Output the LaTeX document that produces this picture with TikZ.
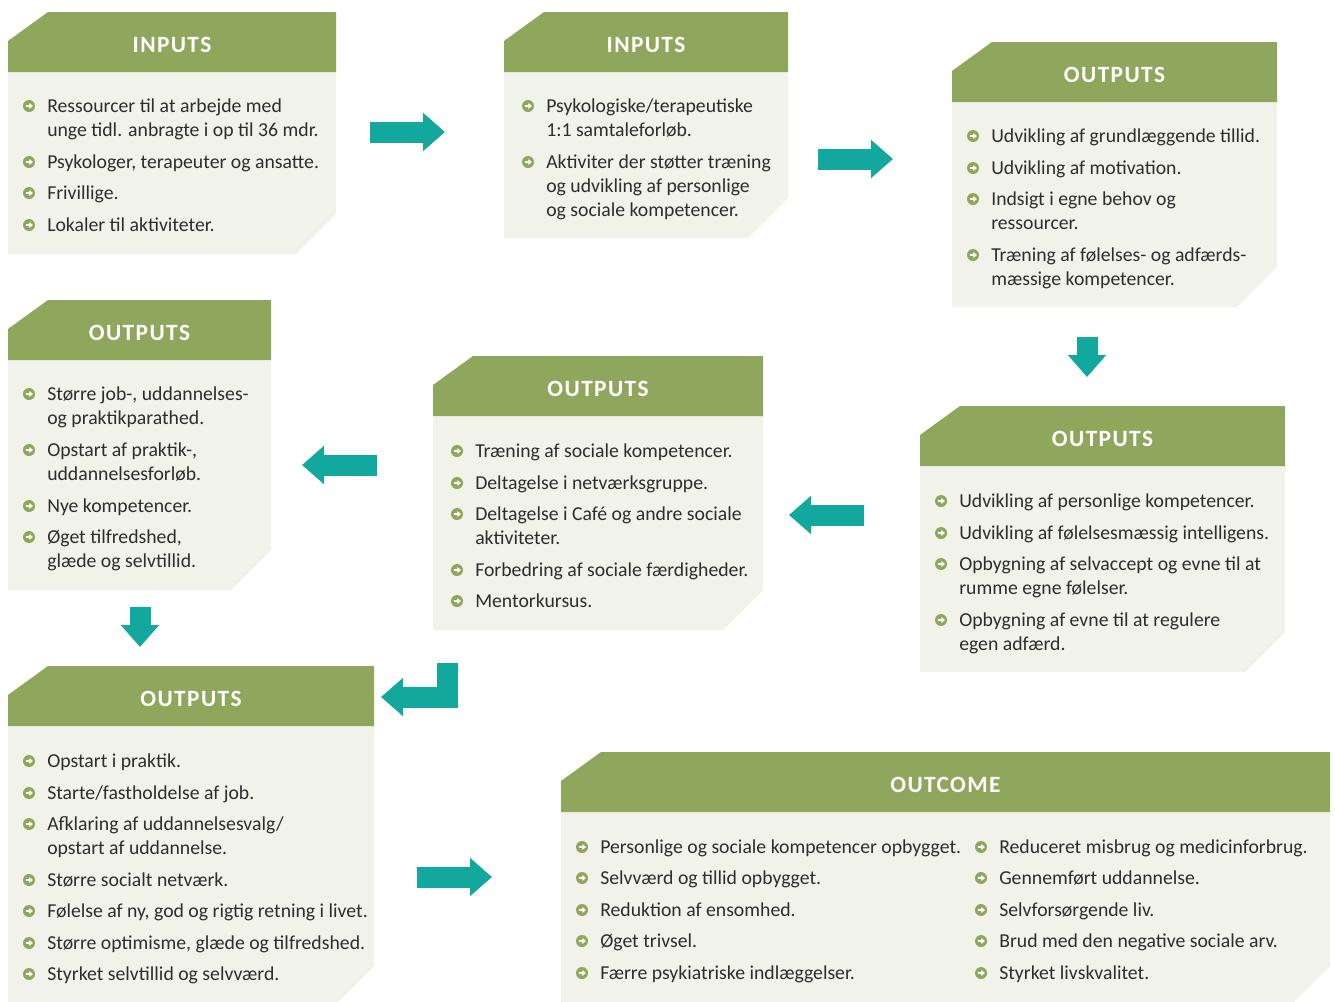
\documentclass[tikz,border=0pt]{standalone}
\usepackage{fontspec}
\setmainfont{Carlito}
\newfontfamily\headfont{Carlito}[LetterSpace=6]
\usetikzlibrary{arrows.meta}

\definecolor{headgreen}{RGB}{143,167,92}
\definecolor{bodygray}{RGB}{241,242,234}
\definecolor{flowteal}{RGB}{19,168,157}
\definecolor{textgray}{RGB}{45,45,45}

\tikzset{
  headtitle/.style={text=white, font=\headfont\fontsize{17.5}{20}\bfseries},
  itemtext/.style={anchor=base west, inner sep=0pt, text=textgray,
    font=\fontsize{14.8}{18}\selectfont},
  flowarrow/.style={draw=flowteal, line width=15.75pt,
    -{Triangle[length=16.5pt,width=27.75pt]}},
  bulletarrow/.pic={
    \fill[headgreen] (0,0) circle (6);
    \draw[white, line width=1.2pt, -{Triangle[length=2.6pt,width=4.2pt]}] (-3.4,0) -- (3.9,0);
  }
}

% box: name, x1, y1, x2, y2, title
\newcommand\flowbox[6]{%
  \fill[bodygray] (#2,#3+60) -- (#4,#3+60) -- (#4,#5-40) -- (#4-40,#5) -- (#2,#5) -- cycle;
  \fill[headgreen] (#2,#3+29) -- (#2+40,#3) -- (#4,#3) -- (#4,#3+60) -- (#2,#3+60) -- cycle;
  \node[headtitle] (#1) at ({(#2+#4)/2},#3+33) {#6};
}
% item: name, text x, line y, text (first line on the baseline)
\newcommand\bitem[4]{%
  \pic at (#2-18,#3) {bulletarrow};
  \node[itemtext] (#1) at (#2,#3+6) {\begin{tabular}[t]{@{}l@{}}#4\end{tabular}};
}

\begin{document}
\begin{tikzpicture}[x=0.75pt, y=-0.75pt]
  \clip (0,0) rectangle (1335,1001);

  % boxes
  \flowbox{in1}{8}{12}{336}{254}{INPUTS}
  \flowbox{in2}{504}{12}{788}{238}{INPUTS}
  \flowbox{out1}{952}{42}{1277}{307}{OUTPUTS}
  \flowbox{out4}{8}{300}{271}{590}{OUTPUTS}
  \flowbox{out3}{433}{356}{763}{630}{OUTPUTS}
  \flowbox{out2}{920}{406}{1285}{672}{OUTPUTS}
  \flowbox{out5}{8}{666}{374}{1006}{OUTPUTS}
  \flowbox{outcome}{561}{752}{1330}{1006}{OUTCOME}

  % items
  \bitem{in1a}{47}{106}{Ressourcer til at arbejde med\\unge tidl. anbragte i op til 36 mdr.}
  \bitem{in1b}{47}{162}{Psykologer, terapeuter og ansatte.}
  \bitem{in1c}{47}{193}{Frivillige.}
  \bitem{in1d}{47}{225}{Lokaler til aktiviteter.}

  \bitem{in2a}{546}{106}{Psykologiske/terapeutiske\\1:1 samtaleforløb.}
  \bitem{in2b}{546}{162}{Aktiviter der støtter træning\\og udvikling af personlige\\og sociale kompetencer.}

  \bitem{out1a}{991}{136}{Udvikling af grundlæggende tillid.}
  \bitem{out1b}{991}{168}{Udvikling af motivation.}
  \bitem{out1c}{991}{199}{Indsigt i egne behov og\\ressourcer.}
  \bitem{out1d}{991}{255}{Træning af følelses- og adfærds-\\mæssige kompetencer.}

  \bitem{out2a}{959}{501}{Udvikling af personlige kompetencer.}
  \bitem{out2b}{959}{533}{Udvikling af følelsesmæssig intelligens.}
  \bitem{out2c}{959}{564}{Opbygning af selvaccept og evne til at\\rumme egne følelser.}
  \bitem{out2d}{959}{620}{Opbygning af evne til at regulere\\egen adfærd.}

  \bitem{out3a}{475}{451}{Træning af sociale kompetencer.}
  \bitem{out3b}{475}{483}{Deltagelse i netværksgruppe.}
  \bitem{out3c}{475}{514}{Deltagelse i Café og andre sociale\\aktiviteter.}
  \bitem{out3d}{475}{570}{Forbedring af sociale færdigheder.}
  \bitem{out3e}{475}{601}{Mentorkursus.}

  \bitem{out4a}{47}{394}{Større job-, uddannelses-\\og praktikparathed.}
  \bitem{out4b}{47}{450}{Opstart af praktik-,\\uddannelsesforløb.}
  \bitem{out4c}{47}{506}{Nye kompetencer.}
  \bitem{out4d}{47}{537}{Øget tilfredshed,\\glæde og selvtillid.}

  \bitem{out5a}{47}{761}{Opstart i praktik.}
  \bitem{out5b}{47}{793}{Starte/fastholdelse af job.}
  \bitem{out5c}{47}{824}{Afklaring af uddannelsesvalg/\\opstart af uddannelse.}
  \bitem{out5d}{47}{880}{Større socialt netværk.}
  \bitem{out5e}{47}{911}{Følelse af ny, god og rigtig retning i livet.}
  \bitem{out5f}{47}{943}{Større optimisme, glæde og tilfredshed.}
  \bitem{out5g}{47}{974}{Styrket selvtillid og selvværd.}

  \bitem{oca}{600}{847}{Personlige og sociale kompetencer opbygget.}
  \bitem{ocb}{600}{878}{Selvværd og tillid opbygget.}
  \bitem{occ}{600}{910}{Reduktion af ensomhed.}
  \bitem{ocd}{600}{941}{Øget trivsel.}
  \bitem{oce}{600}{973}{Færre psykiatriske indlæggelser.}
  \bitem{ocf}{999}{847}{Reduceret misbrug og medicinforbrug.}
  \bitem{ocg}{999}{878}{Gennemført uddannelse.}
  \bitem{och}{999}{910}{Selvforsørgende liv.}
  \bitem{oci}{999}{941}{Brud med den negative sociale arv.}
  \bitem{ocj}{999}{973}{Styrket livskvalitet.}

  % arrow ends
  \coordinate (a1s) at (370,132);  \coordinate (a1e) at (445,132);
  \coordinate (a2s) at (818,159);  \coordinate (a2e) at (893,159);
  \coordinate (a3s) at (1087,337); \coordinate (a3e) at (1087,377);
  \coordinate (a4s) at (377,465);  \coordinate (a4e) at (302,465);
  \coordinate (a5s) at (864,515);  \coordinate (a5e) at (789,515);
  \coordinate (a6s) at (140,607);  \coordinate (a6e) at (140,647);
  \coordinate (a7s) at (447,663);  \coordinate (a7e) at (381,697);
  \coordinate (a8s) at (417,877);  \coordinate (a8e) at (492,877);

  \draw[flowarrow] (a1s) -- (a1e);
  \draw[flowarrow] (a2s) -- (a2e);
  \draw[flowarrow] (a3s) -- (a3e);
  \draw[flowarrow] (a4s) -- (a4e);
  \draw[flowarrow] (a5s) -- (a5e);
  \draw[flowarrow] (a6s) -- (a6e);
  \draw[flowarrow] (a7s) |- (a7e);
  \draw[flowarrow] (a8s) -- (a8e);
\end{tikzpicture}
\end{document}
